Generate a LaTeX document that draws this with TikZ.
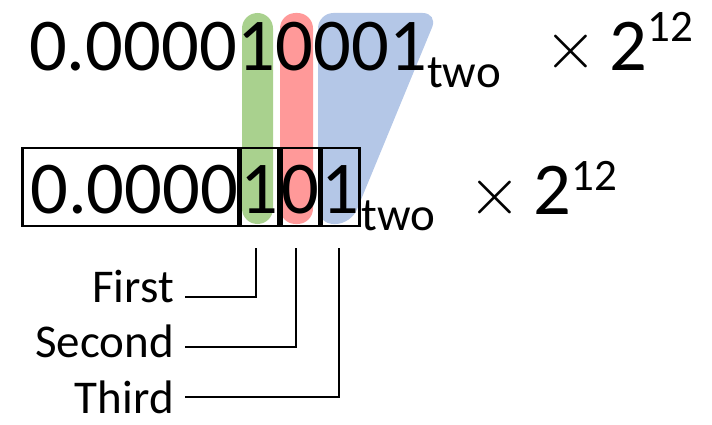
\RequirePackage{fix-cm}
\documentclass[tikz,border=0pt]{standalone}
\usepackage{fontspec}
\setmainfont{Carlito}
\usetikzlibrary{calc}

\definecolor{hlgreen}{HTML}{A9D18E}
\definecolor{hlred}{HTML}{FF9999}
\definecolor{hlblue}{HTML}{B4C7E7}

\tikzset{
  num/.style={inner sep=0pt, anchor=base west, font=\fontsize{74.5pt}{80pt}\selectfont},
  digbox/.style={num, draw, line width=2.8pt, text height=65pt, text depth=13pt},
  subtxt/.style={inner sep=0pt, anchor=base west, font=\fontsize{47pt}{50pt}\selectfont},
  suptxt/.style={inner sep=0pt, anchor=base west, font=\fontsize{45pt}{48pt}\selectfont},
  timestxt/.style={inner sep=0pt, font=\fontsize{68pt}{72pt}\selectfont},
  lbl/.style={inner sep=0pt, anchor=base east, font=\fontsize{47pt}{50pt}\selectfont},
  leader/.style={line width=2pt},
  hl/.style={rounded corners=15.5pt}
}

\begin{document}
\begin{tikzpicture}[x=1pt, y=-1pt]
\useasboundingbox (0,0) rectangle (712,425);

% coloured bands behind the selected bits
\fill[hlgreen, hl] (242,13) rectangle (273,224);
\fill[hlred, hl] (280,13) rectangle (313,224);
\fill[hlblue, hl] (318,13) -- (438,13) -- (351,224) -- (318,224) -- cycle;

% full significand
\node[num] (t0) at (29,71) {0.0000};
\node[num] (t1) at (t0.base east) {1};
\node[num] (t2) at (t1.base east) {0};
\node[num] (t3) at (t2.base east) {001};
\node[subtxt] (t4) at ([yshift=-17pt]t3.base east) {two};
\node[timestxt] (tx) at (571,52) {$\times$};
\node[num] (tb) at (609,71) {2};
\node[suptxt] (te) at ([yshift=29pt]tb.base east) {12};

% truncated significand with its bit boxes
\node[digbox] (b0) at (21,213) {\hspace*{8pt}0.0000};
\node[digbox] (b1) at (b0.base east) {1};
\node[digbox] (b2) at (b1.base east) {0};
\node[digbox] (b3) at (b2.base east) {1};
\node[subtxt] (b4) at ([yshift=-17pt]b3.base east) {two};
\node[timestxt] (bx) at (495,197) {$\times$};
\node[num] (bb) at (533,214) {2};
\node[suptxt] (be) at ([yshift=24pt]bb.base east) {12};

% bit labels
\node[lbl] (lf) at (174,302) {First};
\node[lbl] (ls) at (174,357) {Second};
\node[lbl] (lt) at (174,413) {Third};

\draw[leader] ([shift={(11pt,5pt)}]lf.base east) -| ([shift={(-4pt,-21pt)}]b1.south);
\draw[leader] ([shift={(11pt,10pt)}]ls.base east) -| ([shift={(-4pt,-21pt)}]b2.south);
\draw[leader] ([shift={(11pt,16pt)}]lt.base east) -| ([shift={(-2pt,-21pt)}]b3.south);
\end{tikzpicture}
\end{document}
